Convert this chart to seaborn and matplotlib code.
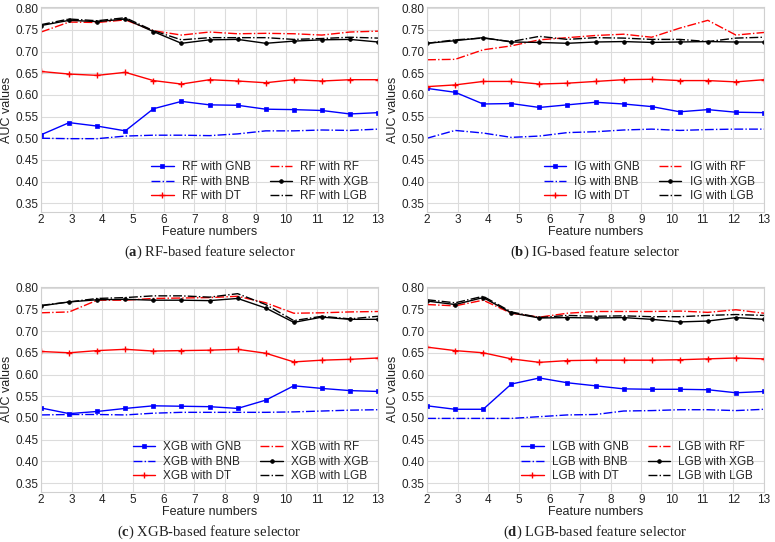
import numpy as np
import pandas as pd
import matplotlib
matplotlib.use('Agg')
import matplotlib.pyplot as plt
import seaborn as sns

# feature-number positions of the 13 evaluated points
feature_x = [2, 2.917, 3.833, 4.75, 5.667, 6.583, 7.5, 8.417, 9.333, 10.25, 11.167, 12.083, 13]

classifiers = ['GNB', 'BNB', 'DT', 'RF', 'XGB', 'LGB']
selectors = ['RF', 'IG', 'XGB', 'LGB']
panel_letters = ['a', 'b', 'c', 'd']

rf_gnb = [0.508, 0.536, 0.528, 0.517, 0.568, 0.585, 0.577, 0.576, 0.567, 0.566, 0.564, 0.556, 0.559]
rf_bnb = [0.500, 0.499, 0.499, 0.505, 0.507, 0.507, 0.506, 0.510, 0.517, 0.517, 0.519, 0.518, 0.521]
rf_dt = [0.654, 0.648, 0.645, 0.652, 0.633, 0.625, 0.635, 0.632, 0.628, 0.635, 0.632, 0.635, 0.635]
rf_rf = [0.745, 0.768, 0.767, 0.773, 0.748, 0.738, 0.745, 0.741, 0.742, 0.741, 0.738, 0.745, 0.747]
rf_xgb = [0.760, 0.772, 0.769, 0.775, 0.746, 0.719, 0.727, 0.728, 0.719, 0.724, 0.727, 0.728, 0.722]
rf_lgb = [0.762, 0.775, 0.771, 0.778, 0.748, 0.727, 0.732, 0.732, 0.732, 0.728, 0.730, 0.733, 0.731]

ig_gnb = [0.615, 0.606, 0.579, 0.580, 0.571, 0.577, 0.583, 0.579, 0.573, 0.561, 0.566, 0.560, 0.559]
ig_bnb = [0.500, 0.518, 0.512, 0.502, 0.505, 0.513, 0.515, 0.519, 0.521, 0.518, 0.520, 0.521, 0.521]
ig_dt = [0.619, 0.623, 0.631, 0.631, 0.625, 0.627, 0.631, 0.635, 0.636, 0.633, 0.633, 0.630, 0.635]
ig_rf = [0.681, 0.682, 0.704, 0.713, 0.727, 0.732, 0.737, 0.740, 0.733, 0.754, 0.772, 0.738, 0.744]
ig_xgb = [0.719, 0.725, 0.732, 0.722, 0.721, 0.719, 0.722, 0.723, 0.721, 0.722, 0.723, 0.722, 0.722]
ig_lgb = [0.719, 0.727, 0.731, 0.723, 0.735, 0.728, 0.732, 0.731, 0.728, 0.728, 0.723, 0.731, 0.733]

xgb_gnb = [0.523, 0.510, 0.515, 0.522, 0.528, 0.527, 0.526, 0.522, 0.541, 0.574, 0.568, 0.563, 0.561]
xgb_bnb = [0.507, 0.508, 0.508, 0.507, 0.511, 0.513, 0.513, 0.513, 0.513, 0.514, 0.516, 0.518, 0.519]
xgb_dt = [0.653, 0.650, 0.655, 0.658, 0.654, 0.655, 0.656, 0.658, 0.649, 0.629, 0.633, 0.635, 0.638]
xgb_rf = [0.742, 0.744, 0.771, 0.771, 0.775, 0.776, 0.777, 0.780, 0.765, 0.741, 0.742, 0.744, 0.745]
xgb_xgb = [0.758, 0.767, 0.772, 0.773, 0.771, 0.771, 0.770, 0.775, 0.753, 0.720, 0.732, 0.727, 0.727]
xgb_lgb = [0.759, 0.767, 0.775, 0.777, 0.781, 0.781, 0.778, 0.786, 0.761, 0.724, 0.734, 0.728, 0.734]

lgb_gnb = [0.528, 0.520, 0.520, 0.578, 0.592, 0.581, 0.574, 0.567, 0.566, 0.566, 0.565, 0.558, 0.561]
lgb_bnb = [0.499, 0.499, 0.499, 0.499, 0.503, 0.507, 0.508, 0.516, 0.517, 0.519, 0.519, 0.517, 0.520]
lgb_dt = [0.663, 0.655, 0.650, 0.636, 0.628, 0.632, 0.633, 0.633, 0.633, 0.634, 0.636, 0.638, 0.636]
lgb_rf = [0.761, 0.758, 0.771, 0.741, 0.732, 0.741, 0.745, 0.745, 0.745, 0.746, 0.743, 0.749, 0.741]
lgb_xgb = [0.769, 0.761, 0.777, 0.742, 0.730, 0.731, 0.730, 0.731, 0.727, 0.721, 0.723, 0.731, 0.727]
lgb_lgb = [0.772, 0.765, 0.780, 0.744, 0.731, 0.736, 0.734, 0.735, 0.733, 0.733, 0.736, 0.738, 0.736]

panel_data = [
    [rf_gnb, rf_bnb, rf_dt, rf_rf, rf_xgb, rf_lgb],
    [ig_gnb, ig_bnb, ig_dt, ig_rf, ig_xgb, ig_lgb],
    [xgb_gnb, xgb_bnb, xgb_dt, xgb_rf, xgb_xgb, xgb_lgb],
    [lgb_gnb, lgb_bnb, lgb_dt, lgb_rf, lgb_xgb, lgb_lgb],
]

styles = {
    'GNB': dict(color='#0000ff', linestyle='-', marker='s', markersize=2.8,
                markeredgecolor='#0000ff', markeredgewidth=0.5),
    'BNB': dict(color='#0000ff', linestyle='-.'),
    'DT': dict(color='#ff0000', linestyle='-', marker='+', markersize=4.5,
               markeredgecolor='#ff0000', markeredgewidth=1.0),
    'RF': dict(color='#ff0000', linestyle='-.'),
    'XGB': dict(color='black', linestyle='-', marker='o', markersize=2.7,
                markeredgecolor='black', markeredgewidth=0.5),
    'LGB': dict(color='black', linestyle='-.'),
}

sns.set_theme(style='whitegrid')
plt.rcParams['font.family'] = ['Liberation Sans', 'DejaVu Sans']
plt.rcParams['mathtext.fontset'] = 'custom'
plt.rcParams['mathtext.rm'] = 'Liberation Serif'
plt.rcParams['mathtext.bf'] = 'Liberation Serif:bold'

fig = plt.figure(figsize=(7.75, 5.42), dpi=100)
positions = [
    [0.053, 0.609, 0.4348, 0.3775],
    [0.551, 0.609, 0.4348, 0.3775],
    [0.053, 0.0925, 0.4348, 0.3785],
    [0.551, 0.0925, 0.4348, 0.3785],
]

for i, sel in enumerate(selectors):
    ax = fig.add_axes(positions[i])
    for clf, vals in zip(classifiers, panel_data[i]):
        df = pd.DataFrame({'x': feature_x, 'auc': vals})
        sns.lineplot(data=df, x='x', y='auc', ax=ax, sort=False, linewidth=1.0,
                     label=f'{sel} with {clf}', **styles[clf])
    ax.set_xlim(2, 13)
    ax.set_ylim(0.33, 0.802)
    ax.set_xticks(range(2, 14))
    yt = np.arange(0.35, 0.801, 0.05)
    ax.set_yticks(yt)
    ax.set_yticklabels([f'{v:.2f}' for v in yt])
    ax.tick_params(labelsize=8.5, pad=1.5, length=0, colors='#222222')
    ax.grid(color='#dcdcdc', linewidth=0.8)
    for sp in ax.spines.values():
        sp.set_color('#d0d0d0')
        sp.set_linewidth(0.8)
    ax.set_xlabel('Feature numbers', fontsize=9, labelpad=0, color='#222222')
    ax.set_ylabel('AUC values', fontsize=9, labelpad=2, color='#222222')
    ax.legend(ncol=2, loc='lower right', frameon=False, fontsize=8.5,
              handlelength=1.9, columnspacing=1.6, labelspacing=0.22,
              borderaxespad=0.4, handletextpad=0.7)
    ax.text(0.5, -0.198, r'($\mathbf{' + panel_letters[i] + r'}$) ' + f'{sel}-based feature selector',
            transform=ax.transAxes, ha='center', va='center', fontsize=10.5,
            family='Liberation Serif', color='#222222')

fig.savefig('out.png', dpi=100)
